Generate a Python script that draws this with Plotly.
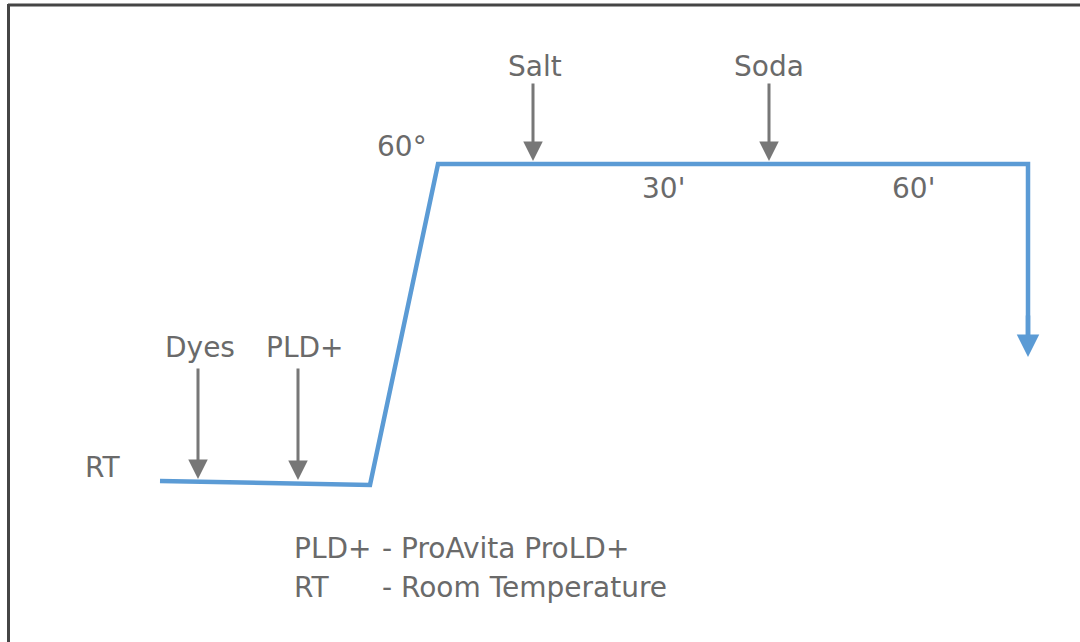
import plotly.graph_objects as go

# Temperature profile (diagram units: x = process time, y = drawing height, down is positive)
profile_x = [160, 370, 438, 1028, 1028]
profile_y = [481, 485, 164, 164, 335]

# Additions (gray arrows)
add_labels = ["Dyes", "PLD+", "Salt", "Soda"]
add_x = [198, 298, 533, 769]
add_top = [367, 367, 82, 82]
add_tip = [479, 480, 161, 161]
add_label_x = [200, 305, 535, 769]
add_label_y = [347, 347, 66, 66]

# Other labels
misc_labels = ["60°", "30'", "60'", "RT"]
misc_x = [402, 663, 913, 102]
misc_y = [146, 188, 188, 467]

legend_keys = ["PLD+", "RT"]
legend_desc = ["- ProAvita ProLD+", "- Room Temperature"]
legend_y = [548, 587]

BLUE = "#5B9BD5"
GRAY = "#777777"
TXT = "#6A6A6A"
FONT = "DejaVu Sans"
FS = 28

fig = go.Figure()
fig.add_trace(go.Scatter(x=profile_x, y=profile_y, mode="lines",
                         line=dict(color=BLUE, width=4.5), hoverinfo="skip",
                         showlegend=False))

ann = []
# blue end arrow
ann.append(dict(x=profile_x[-1], y=357, ax=profile_x[-1], ay=profile_y[-2] + 150,
                xref="x", yref="y", axref="x", ayref="y", text="", showarrow=True,
                arrowhead=2, arrowsize=1.0, arrowwidth=4.5, arrowcolor=BLUE))
for lab, x, t, tip, lx, ly in zip(add_labels, add_x, add_top, add_tip, add_label_x, add_label_y):
    ann.append(dict(x=x, y=tip, ax=x, ay=t, xref="x", yref="y", axref="x", ayref="y",
                    text="", showarrow=True, arrowhead=2, arrowsize=1.3, arrowwidth=3,
                    arrowcolor=GRAY))
    ann.append(dict(x=lx, y=ly, xref="x", yref="y", text=lab, showarrow=False,
                    font=dict(family=FONT, size=FS, color=TXT)))
for lab, x, y in zip(misc_labels, misc_x, misc_y):
    ann.append(dict(x=x, y=y, xref="x", yref="y", text=lab, showarrow=False,
                    font=dict(family=FONT, size=FS, color=TXT)))
for k, d, y in zip(legend_keys, legend_desc, legend_y):
    ann.append(dict(x=292, y=y, xref="x", yref="y", text=k, showarrow=False,
                    xanchor="left", font=dict(family=FONT, size=FS, color=TXT)))
    ann.append(dict(x=380, y=y, xref="x", yref="y", text=d, showarrow=False,
                    xanchor="left", font=dict(family=FONT, size=FS, color=TXT)))

shapes = [
    dict(type="line", xref="x", yref="y", x0=8, x1=1090, y0=5, y1=5,
         line=dict(color="#454545", width=3)),
    dict(type="line", xref="x", yref="y", x0=8.5, x1=8.5, y0=4, y1=660,
         line=dict(color="#454545", width=3)),
]

fig.update_layout(
    width=1080, height=642, margin=dict(l=0, r=0, t=0, b=0),
    paper_bgcolor="white", plot_bgcolor="white",
    xaxis=dict(range=[0, 1080], visible=False, fixedrange=True),
    yaxis=dict(range=[642, 0], visible=False, fixedrange=True),
    annotations=ann, shapes=shapes, showlegend=False,
)
fig.write_html("out.html", config={"displayModeBar": False},
               post_script="document.body.style.margin='0';document.body.style.overflow='hidden';")
